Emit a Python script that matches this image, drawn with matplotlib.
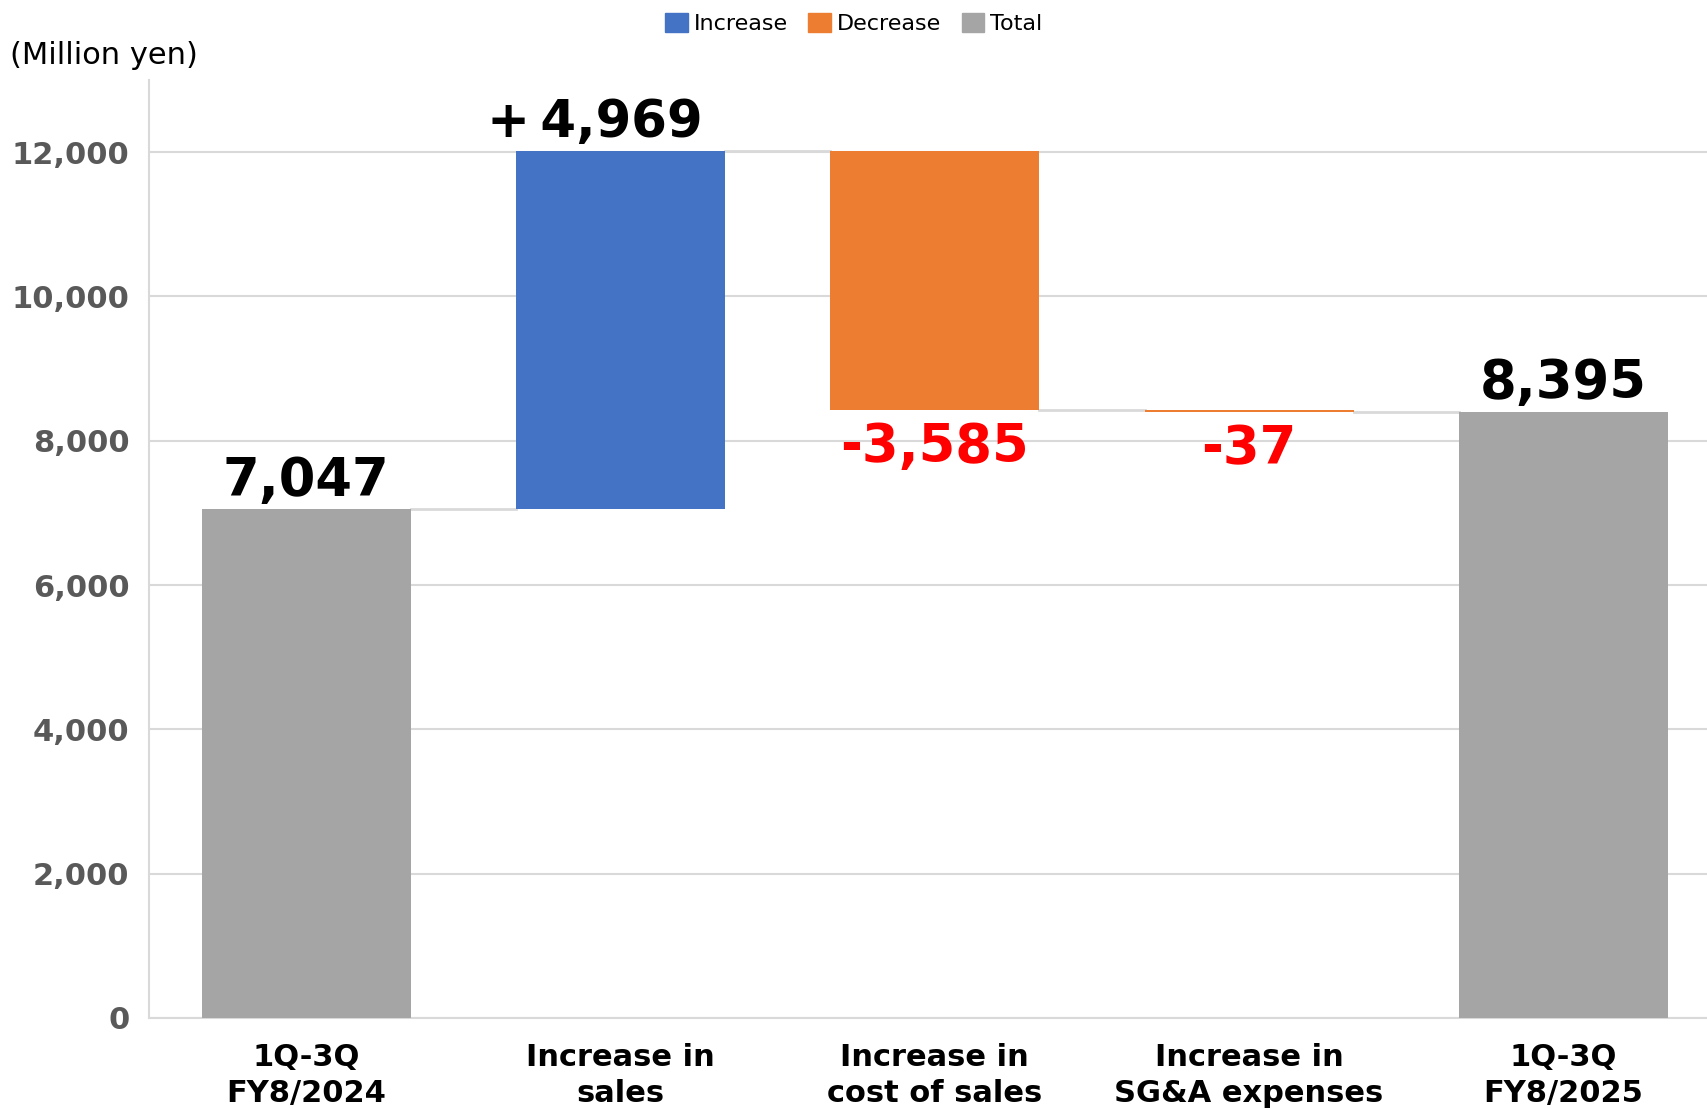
import matplotlib
matplotlib.use('Agg')
import numpy as np
import matplotlib.pyplot as plt
from matplotlib.patches import Patch

# chart data
categories = ["1Q-3Q\nFY8/2024", "Increase in\nsales", "Increase in\ncost of sales",
              "Increase in\nSG&A expenses", "1Q-3Q\nFY8/2025"]
start_total = 7047
changes = [4969, -3585, -37]
end_total = 8395
value_labels = ["7,047", "+\u20094,969", "-3,585", "-37", "8,395"]
y_ticks = [0, 2000, 4000, 6000, 8000, 10000, 12000]

blue = "#4472C4"
orange = "#ED7D31"
gray = "#A5A5A5"
grid_col = "#D9D9D9"

plt.rcParams['font.family'] = ['DejaVu Sans']

fig = plt.figure(figsize=(17.08, 11.09), dpi=100)
ax = fig.add_axes([0.0872, 0.0821, 0.9128, 0.8458])

# build bottoms / heights of the waterfall
bottoms = [0]
heights = [start_total]
colors = [gray]
level = start_total
for c in changes:
    if c >= 0:
        bottoms.append(level)
        heights.append(c)
        colors.append(blue)
    else:
        bottoms.append(level + c)
        heights.append(-c)
        colors.append(orange)
    level = level + c
bottoms.append(0)
heights.append(end_total)
colors.append(gray)

x = np.arange(len(categories))
width = 0.665
ax.bar(x, heights, width, bottom=bottoms, color=colors, zorder=3)

# connector lines between bars
levels = [start_total]
lv = start_total
for c in changes:
    lv += c
    levels.append(lv)
for i in range(len(categories) - 1):
    ax.plot([x[i] + width / 2, x[i + 1] - width / 2], [levels[i], levels[i]],
            color=grid_col, lw=2, zorder=2)

# value labels
tops = [b + h for b, h in zip(bottoms, heights)]
ax.annotate(value_labels[0], (x[0], tops[0]), xytext=(0, 2), textcoords="offset points",
            ha="center", va="bottom", fontsize=38, fontweight="bold", color="black")
ax.annotate(value_labels[1], (x[1] - 0.08, tops[1]), xytext=(0, 2), textcoords="offset points",
            ha="center", va="bottom", fontsize=37, fontweight="bold", color="black")
ax.annotate(value_labels[2], (x[2], bottoms[2]), xytext=(0, -8), textcoords="offset points",
            ha="center", va="top", fontsize=38, fontweight="bold", color="#FF0000")
ax.annotate(value_labels[3], (x[3], bottoms[3]), xytext=(0, -8), textcoords="offset points",
            ha="center", va="top", fontsize=38, fontweight="bold", color="#FF0000")
ax.annotate(value_labels[4], (x[4], tops[4]), xytext=(0, 2), textcoords="offset points",
            ha="center", va="bottom", fontsize=38, fontweight="bold", color="black")

# axes styling
ax.set_xlim(-0.5, 4.46)
ax.set_ylim(0, 13000)
ax.set_yticks(y_ticks)
ax.set_yticklabels([f"{v:,}" for v in y_ticks], fontsize=22, fontweight="bold", color="#595959")
ax.set_xticks(x)
ax.set_xticklabels(categories, fontsize=22, fontweight="bold", color="black", linespacing=1.3)
ax.tick_params(axis="y", length=0, pad=14)
ax.tick_params(axis="x", length=0, pad=18)
ax.yaxis.grid(True, color=grid_col, lw=1.5, zorder=0)
ax.set_axisbelow(True)
for s in ["top", "right"]:
    ax.spines[s].set_visible(False)
ax.spines["left"].set_color(grid_col)
ax.spines["left"].set_linewidth(1.5)
ax.spines["bottom"].set_color(grid_col)
ax.spines["bottom"].set_linewidth(1.5)

fig.text(0.006, 0.950, "(Million yen)", fontsize=22, ha="left", va="center")

handles = [Patch(color=blue, label="Increase"),
           Patch(color=orange, label="Decrease"),
           Patch(color=gray, label="Total")]
fig.legend(handles=handles, loc="center", bbox_to_anchor=(0.5, 0.979), ncol=3, frameon=False,
           fontsize=16, handlelength=1.0, handleheight=1.0, handletextpad=0.3, columnspacing=0.9)

fig.savefig("out.png", dpi=100)
